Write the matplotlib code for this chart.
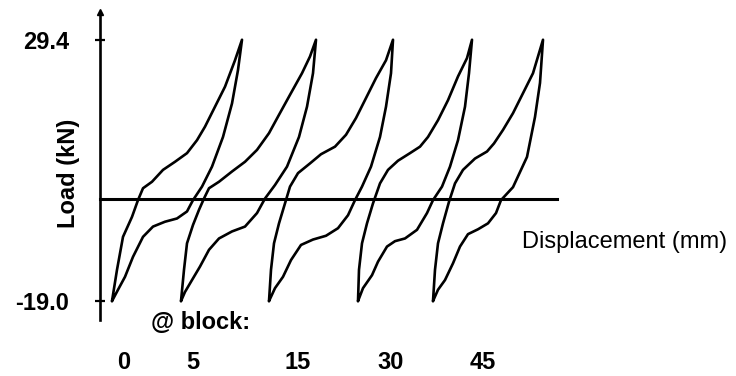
import matplotlib
matplotlib.use("Agg")
import matplotlib.pyplot as plt

# Load-displacement hysteresis loops recorded after successive loading blocks.
# Displacement is offset per block so the loops sit side by side.
LOAD_MAX = 29.4
LOAD_MIN = -19.0

# Block 0
loop1_up_x = [1.2, 1.7, 2.3, 3.2, 3.8, 4.3, 5.2, 6.3, 7.5, 8.7, 9.7, 10.5, 11.5, 12.5, 13.5, 14.2]
loop1_up_y = [LOAD_MIN, -13.2, -7.1, -3.4, -0.3, 1.9, 3.1, 5.3, 6.8, 8.4, 10.8, 13.3, 17.0, 20.7, 25.6, LOAD_MAX]
loop1_dn_x = [14.2, 13.8, 13.2, 12.3, 11.2, 10.2, 9.3, 8.7, 7.7, 6.5, 5.3, 4.3, 3.3, 2.5, 1.8, 1.2]
loop1_dn_y = [LOAD_MAX, 23.8, 17.6, 11.4, 5.9, 2.2, -0.3, -2.4, -3.7, -4.3, -5.2, -7.1, -10.8, -14.5, -16.9, LOAD_MIN]

# Block 5
loop2_up_x = [8.1, 8.4, 8.7, 9.3, 9.9, 10.4, 10.9, 11.9, 13.2, 14.5, 15.7, 16.9, 17.9, 19.0, 20.2, 21.0, 21.6]
loop2_up_y = [LOAD_MIN, -13.2, -8.3, -4.9, -2.1, 0.0, 1.9, 3.1, 5.0, 6.8, 9.0, 12.1, 15.5, 19.2, 23.2, 26.3, LOAD_MAX]
loop2_dn_x = [21.6, 21.3, 20.7, 19.9, 18.7, 17.5, 16.5, 15.7, 14.5, 13.2, 11.9, 10.9, 10.0, 9.2, 8.5, 8.1]
loop2_dn_y = [LOAD_MAX, 23.2, 17.0, 11.4, 5.9, 2.5, 0.0, -2.7, -5.2, -6.1, -7.4, -9.5, -12.6, -15.1, -17.3, LOAD_MIN]

# Block 15
loop3_up_x = [16.9, 17.1, 17.4, 17.9, 18.5, 19.0, 19.8, 21.0, 22.1, 23.5, 24.6, 25.6, 26.6, 27.6, 28.6, 29.3]
loop3_up_y = [LOAD_MIN, -13.2, -8.3, -4.6, -0.9, 2.2, 4.7, 6.5, 8.2, 9.6, 11.8, 14.9, 18.6, 22.3, 25.6, LOAD_MAX]
loop3_dn_x = [29.3, 29.1, 28.6, 28.0, 27.1, 26.2, 25.5, 24.8, 23.8, 22.6, 21.3, 20.1, 19.1, 18.3, 17.5, 16.9]
loop3_dn_y = [LOAD_MAX, 23.2, 17.0, 11.4, 5.9, 2.2, -0.3, -3.1, -5.5, -6.9, -7.6, -8.6, -11.4, -14.5, -16.6, LOAD_MIN]

# Block 30
loop4_up_x = [25.8, 25.9, 26.2, 26.7, 27.3, 28.0, 28.8, 29.8, 31.0, 32.0, 32.8, 33.8, 34.8, 35.8, 36.7, 37.2]
loop4_up_y = [LOAD_MIN, -13.2, -8.3, -4.6, -0.9, 2.8, 5.3, 7.0, 8.4, 9.6, 11.4, 14.5, 18.2, 22.6, 26.0, LOAD_MAX]
loop4_dn_x = [37.2, 36.9, 36.5, 35.8, 35.0, 34.2, 33.3, 32.7, 31.7, 30.5, 29.5, 28.7, 27.8, 27.2, 26.3, 25.8]
loop4_dn_y = [LOAD_MAX, 23.2, 17.0, 10.8, 5.9, 2.2, -0.3, -2.7, -5.8, -7.4, -7.9, -8.9, -11.7, -14.2, -16.6, LOAD_MIN]

# Block 45
loop5_up_x = [33.3, 33.5, 33.8, 34.3, 34.9, 35.5, 36.3, 37.5, 38.7, 39.4, 40.3, 41.3, 42.3, 43.3, 44.3]
loop5_up_y = [LOAD_MIN, -13.2, -8.3, -4.6, -0.6, 2.8, 5.3, 7.4, 8.7, 10.2, 12.7, 15.8, 19.5, 23.2, LOAD_MAX]
loop5_dn_x = [44.3, 44.0, 43.5, 42.7, 41.3, 40.1, 39.6, 38.8, 37.8, 36.8, 36.0, 35.3, 34.5, 33.8, 33.3]
loop5_dn_y = [LOAD_MAX, 21.4, 15.1, 7.7, 2.1, -0.3, -2.7, -4.6, -5.7, -6.6, -8.9, -12.0, -15.1, -16.9, LOAD_MIN]

block_labels = ["0", "5", "15", "30", "45"]
block_label_x = [2.35, 9.3, 19.8, 29.1, 38.3]

ytick_values = [LOAD_MIN, LOAD_MAX]
ytick_labels = ["-19.0", "29.4"]

loops = [
    (loop1_up_x, loop1_up_y, loop1_dn_x, loop1_dn_y),
    (loop2_up_x, loop2_up_y, loop2_dn_x, loop2_dn_y),
    (loop3_up_x, loop3_up_y, loop3_dn_x, loop3_dn_y),
    (loop4_up_x, loop4_up_y, loop4_dn_x, loop4_dn_y),
    (loop5_up_x, loop5_up_y, loop5_dn_x, loop5_dn_y),
]

plt.rcParams["font.family"] = ["Liberation Sans", "DejaVu Sans"]

fig = plt.figure(figsize=(7.36, 3.76), dpi=100)
ax = fig.add_axes([0, 0, 1, 1])
ax.set_xlim(-10.0, 63.6)
ax.set_ylim(-32.87, 36.76)

lw = 1.9
for up_x, up_y, dn_x, dn_y in loops:
    ax.plot(up_x + dn_x[1:], up_y + dn_y[1:], color="black", lw=lw,
            solid_joinstyle="round", solid_capstyle="round")

# Axes drawn through the origin
for side in ("top", "right"):
    ax.spines[side].set_visible(False)
ax.spines["left"].set_position(("data", 0))
ax.spines["bottom"].set_position(("data", 0))
ax.spines["left"].set_bounds(-22.5, 34.3)
ax.spines["bottom"].set_bounds(0, 45.7)
ax.spines["left"].set_linewidth(1.9)
ax.spines["bottom"].set_linewidth(2.2)
ax.plot([0], [34.6], marker="^", ms=4.5, color="black", clip_on=False)

ax.set_xticks([])
ax.set_yticks(ytick_values)
ax.set_yticklabels(ytick_labels, fontsize=17, fontweight="bold")
ax.tick_params(axis="y", direction="inout", length=7, width=1.6, pad=19)

ax.text(-3.1, 4.7, "Load (kN)", rotation=90, ha="center", va="center",
        fontsize=17, fontweight="bold")
ax.text(42.2, -8.0, "Displacement (mm)", ha="left", va="center", fontsize=17)
ax.text(10.1, -22.9, "@ block:", ha="center", va="center", fontsize=17, fontweight="bold")
for lab, xb in zip(block_labels, block_label_x):
    ax.text(xb, -30.3, lab, ha="center", va="center", fontsize=17, fontweight="bold")

fig.savefig("out.png", dpi=100)
